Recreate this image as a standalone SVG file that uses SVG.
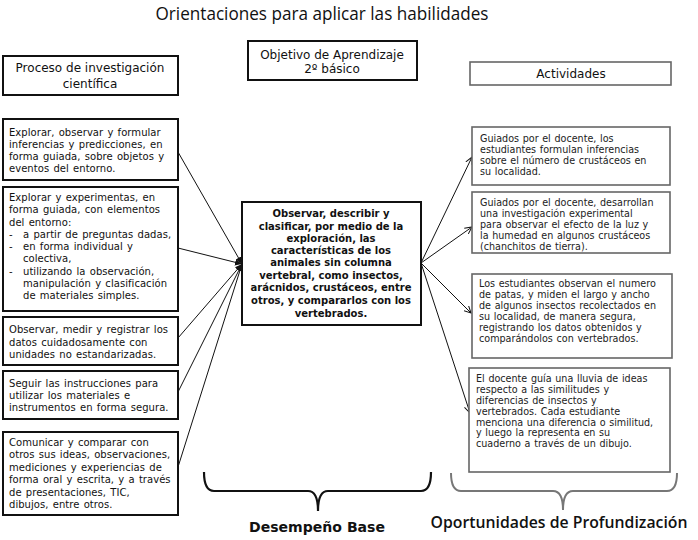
<svg xmlns="http://www.w3.org/2000/svg" width="698" height="540" viewBox="0 0 698 540">
<defs>
<style>
.bx{fill:#fff;stroke:#111;stroke-width:2}
.gbx{fill:#fff;stroke:#666;stroke-width:1.6}
.lt{font-family:"DejaVu Sans",Verdana,sans-serif;font-size:10px;fill:#111;letter-spacing:0.05px;word-spacing:1px}
.rt{font-family:"DejaVu Sans",Verdana,sans-serif;font-size:9.6px;fill:#222;word-spacing:0.6px}
.ct{font-family:"DejaVu Sans",Verdana,sans-serif;font-size:10px;font-weight:bold;fill:#111;text-anchor:middle}
.hd{font-family:"DejaVu Sans",Verdana,sans-serif;font-size:12px;fill:#111;text-anchor:middle}
.cn{stroke:#111;stroke-width:1;fill:none}
</style>
<marker id="ah" markerWidth="8" markerHeight="8" refX="7" refY="4" orient="auto" markerUnits="userSpaceOnUse">
<path d="M0,0.8 L7,4 L0,7.2 Z" fill="#111"/>
</marker>
<marker id="av" markerWidth="8" markerHeight="8" refX="7" refY="4" orient="auto" markerUnits="userSpaceOnUse">
<path d="M0,0.5 L7,4 L0,7.5" fill="none" stroke="#111" stroke-width="1"/>
</marker>
</defs>
<rect width="698" height="540" fill="#fff"/>
<text x="322" y="20" font-family="'Open Sans','DejaVu Sans',sans-serif" font-size="17.5" fill="#111" text-anchor="middle" textLength="333" lengthAdjust="spacingAndGlyphs">Orientaciones para aplicar las habilidades</text>

<g id="connectors">
<line class="cn" x1="178" y1="152" x2="242" y2="264" marker-end="url(#ah)"/>
<line class="cn" x1="178" y1="248" x2="242" y2="264" marker-end="url(#ah)"/>
<line class="cn" x1="178" y1="338" x2="242" y2="264" marker-end="url(#ah)"/>
<line class="cn" x1="178" y1="392" x2="242" y2="264" marker-end="url(#ah)"/>
<line class="cn" x1="178" y1="467" x2="242" y2="264" marker-end="url(#ah)"/>
<line class="cn" x1="421" y1="263" x2="472" y2="157" marker-end="url(#av)"/>
<line class="cn" x1="421" y1="263" x2="472" y2="227" marker-end="url(#av)"/>
<line class="cn" x1="421" y1="263" x2="471" y2="313" marker-end="url(#av)"/>
<line class="cn" x1="421" y1="263" x2="470" y2="413" marker-end="url(#av)"/>
</g>

<g id="hdr-proceso">
<rect class="bx" x="3" y="56" width="175" height="39"/>
<text class="hd" x="90" y="72" font-size="12.5">Proceso de investigación</text>
<text class="hd" x="90" y="88" font-size="12.5">científica</text>
</g>

<g id="hdr-objetivo">
<rect class="bx" x="248" y="41" width="169" height="39"/>
<text class="hd" x="332" y="59">Objetivo de Aprendizaje</text>
<text class="hd" x="332" y="73">2º básico</text>
</g>

<g id="hdr-actividades">
<rect class="gbx" x="470" y="62" width="201" height="23"/>
<text class="hd" x="571" y="78" fill="#222">Actividades</text>
</g>

<g id="p1">
<rect class="bx" x="3" y="119" width="175" height="61"/>
<text class="lt" x="9" y="136">Explorar, observar y formular</text>
<text class="lt" x="9" y="148">inferencias y predicciones, en</text>
<text class="lt" x="9" y="160">forma guiada, sobre objetos y</text>
<text class="lt" x="9" y="172">eventos del entorno.</text>
</g>

<g id="p2">
<rect class="bx" x="3" y="187" width="175" height="124"/>
<text class="lt" x="9" y="201">Explorar y experimentas, en</text>
<text class="lt" x="9" y="213">forma guiada, con elementos</text>
<text class="lt" x="9" y="226">del entorno:</text>
<text class="lt" x="9" y="238">-</text><text class="lt" x="23" y="238">a partir de preguntas dadas,</text>
<text class="lt" x="9" y="250">-</text><text class="lt" x="23" y="250">en forma individual  y</text>
<text class="lt" x="23" y="262">colectiva,</text>
<text class="lt" x="9" y="275">-</text><text class="lt" x="23" y="275">utilizando la observación,</text>
<text class="lt" x="23" y="287">manipulación y clasificación</text>
<text class="lt" x="23" y="299">de materiales simples.</text>
</g>

<g id="p3">
<rect class="bx" x="3" y="317" width="175" height="48"/>
<text class="lt" x="9" y="333">Observar, medir y registrar los</text>
<text class="lt" x="9" y="346">datos cuidadosamente  con</text>
<text class="lt" x="9" y="358">unidades no estandarizadas.</text>
</g>

<g id="p4">
<rect class="bx" x="3" y="371" width="175" height="48"/>
<text class="lt" x="9" y="387">Seguir las instrucciones para</text>
<text class="lt" x="9" y="399">utilizar los materiales e</text>
<text class="lt" x="9" y="411">instrumentos en forma segura.</text>
</g>

<g id="p5">
<rect class="bx" x="3" y="432" width="175" height="83"/>
<text class="lt" x="9" y="446">Comunicar y comparar con</text>
<text class="lt" x="9" y="458">otros sus ideas, observaciones,</text>
<text class="lt" x="9" y="471">mediciones y experiencias de</text>
<text class="lt" x="9" y="483">forma oral y escrita, y a través</text>
<text class="lt" x="9" y="496">de presentaciones, TIC,</text>
<text class="lt" x="9" y="508">dibujos, entre otros.</text>
</g>

<g id="oa">
<rect class="bx" x="242" y="202" width="179" height="123"/>
<text class="ct" x="331" y="217">Observar, describir y</text>
<text class="ct" x="331" y="230">clasificar, por medio de la</text>
<text class="ct" x="331" y="242">exploración, las</text>
<text class="ct" x="331" y="254">características de los</text>
<text class="ct" x="331" y="266">animales sin columna</text>
<text class="ct" x="331" y="279">vertebral, como insectos,</text>
<text class="ct" x="331" y="291">arácnidos, crustáceos, entre</text>
<text class="ct" x="331" y="304">otros, y compararlos con los</text>
<text class="ct" x="331" y="317">vertebrados.</text>
</g>

<g id="a1">
<rect class="gbx" x="472" y="127" width="198" height="58"/>
<text class="rt" x="480" y="142">Guiados por el docente, los</text>
<text class="rt" x="480" y="153">estudiantes formulan inferencias</text>
<text class="rt" x="480" y="164">sobre el número de crustáceos en</text>
<text class="rt" x="480" y="175">su localidad.</text>
</g>

<g id="a2">
<rect class="gbx" x="472" y="192" width="198" height="61"/>
<text class="rt" x="480" y="206">Guiados por el docente, desarrollan</text>
<text class="rt" x="480" y="217">una investigación experimental</text>
<text class="rt" x="480" y="228">para observar el efecto de la luz y</text>
<text class="rt" x="480" y="239">la humedad en algunos crustáceos</text>
<text class="rt" x="480" y="250">(chanchitos de tierra).</text>
</g>

<g id="a3">
<rect class="gbx" x="472" y="274" width="200" height="84"/>
<text class="rt" x="479" y="287">Los estudiantes observan el numero</text>
<text class="rt" x="479" y="298">de patas, y miden el largo y ancho</text>
<text class="rt" x="479" y="309">de algunos insectos recolectados en</text>
<text class="rt" x="479" y="320">su localidad, de manera segura,</text>
<text class="rt" x="479" y="331">registrando los datos obtenidos y</text>
<text class="rt" x="479" y="342">comparándolos con vertebrados.</text>
</g>

<g id="a4">
<rect class="gbx" x="469" y="368" width="201" height="104"/>
<text class="rt" x="476" y="382">El docente guía una lluvia de ideas</text>
<text class="rt" x="476" y="393">respecto a las similitudes y</text>
<text class="rt" x="476" y="404">diferencias de insectos y</text>
<text class="rt" x="476" y="415">vertebrados. Cada estudiante</text>
<text class="rt" x="476" y="426">menciona una diferencia o similitud,</text>
<text class="rt" x="476" y="436">y luego la representa en su</text>
<text class="rt" x="476" y="447">cuaderno a través de un dibujo.</text>
</g>

<g id="desempeno-base">
<path d="M204,472 Q204,491 214,491 H308 Q318,491 318,511 Q318,491 328,491 H421 Q431,491 431,472" fill="none" stroke="#111" stroke-width="2.2"/>
<text x="317" y="532" font-family="'DejaVu Sans',Verdana,sans-serif" font-size="14" font-weight="bold" fill="#111" text-anchor="middle" textLength="136" lengthAdjust="spacingAndGlyphs">Desempeño Base</text>
</g>

<g id="profundizacion">
<path d="M451,473 Q451,491 461,491 H553 Q563,491 563,510 Q563,491 573,491 H667 Q677,491 677,473" fill="none" stroke="#777" stroke-width="2"/>
<text x="559" y="528" font-family="'Open Sans','DejaVu Sans',sans-serif" font-size="16.5" fill="#111" font-weight="600" text-anchor="middle" textLength="257" lengthAdjust="spacingAndGlyphs">Oportunidades de Profundización</text>
</g>
</svg>
